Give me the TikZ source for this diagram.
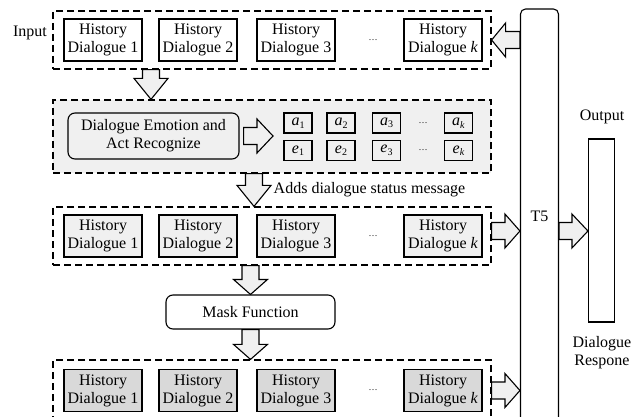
\documentclass[tikz,border=0pt]{standalone}
\usepackage{fontspec}
\setmainfont{Liberation Serif}
\usetikzlibrary{calc,positioning}
\definecolor{panelgray}{HTML}{F0F0F0}
\definecolor{maskgray}{HTML}{D9D9D9}

% Blockpfeil von #1 nach #2, Kopflaenge #3
\newcommand{\blockarrow}[3]{%
  \coordinate (ba) at (#1);
  \coordinate (bb) at (#2);
  \coordinate (hb) at ($(bb)!#3!(ba)$);
  \draw[blockarr] ($(ba)!8.5pt!90:(bb)$) -- ($(hb)!8.5pt!90:(bb)$) -- ($(hb)!17pt!90:(bb)$)
    -- (bb) -- ($(hb)!17pt!-90:(bb)$) -- ($(hb)!8.5pt!-90:(bb)$) -- ($(ba)!8.5pt!-90:(bb)$) -- cycle;}
\newcommand{\symb}[2]{\textit{#1}\raisebox{-2.5pt}{\fontsize{10}{10}\selectfont #2}}

\tikzset{
  group/.style={draw, line width=1.2pt, dash pattern=on 7pt off 4pt, minimum width=438pt, minimum height=58pt, inner sep=0pt},
  hist/.style={draw, line width=1.1pt, minimum width=78pt, minimum height=42pt, inner sep=1pt, align=center},
  symbox/.style={draw, line width=1.1pt, minimum width=28pt, minimum height=20pt, inner sep=0pt},
  roundbox/.style={draw, line width=1.1pt, rounded corners=7pt, align=center, inner sep=0pt},
  plainbox/.style={draw, line width=1.1pt, inner sep=0pt},
  blockarr/.style={draw, line width=1.1pt, fill=panelgray, line join=miter},
  dots/.style={font=\fontsize{9}{10}\selectfont, inner sep=0pt}
}

\begin{document}
\begin{tikzpicture}[x=1pt, y=1pt, font=\fontsize{16}{18}\selectfont]
  \useasboundingbox (0,0) rectangle (638,416);
  \clip (0,0) rectangle (638,416);
  % Gruppen
  \node[group] (row1) at (272,376) {};
  \node[group, fill=panelgray, minimum height=73pt] (row2) at (272,279.5) {};
  \node[group] (row3) at (272,180) {};
  \node[group] (row4) at (272,27) {};
  \node (inlbl) at (30,383) {Input};
  % Eingabe
  \foreach \i/\x in {1/103, 2/198, 3/296}
    \node[hist] (r1h\i) at (\x,376) {History\\Dialogue \i};
  \node[dots] (r1dots) at (373,376) {\dots};
  \node[hist] (r1hk) at (443,376) {History\\Dialogue \textit{k}};
  % Emotion und Akt
  \node[roundbox, minimum width=171pt, minimum height=46pt] (emo) at (153.5,280) {Dialogue Emotion and\\Act Recognize};
  \foreach \i/\x in {1/298, 2/341, 3/386.5} {
    \node[symbox] (a\i) at (\x,293) {\symb{a}{\i}};
    \node[symbox] (e\i) at (\x,265.5) {\symb{e}{\i}};
  }
  \node[dots] (adots) at (423,293) {\dots};
  \node[dots] (edots) at (423,265.5) {\dots};
  \node[symbox] (ak) at (458.5,293) {\symb{a}{\textit{k}}};
  \node[symbox] (ek) at (458.5,265.5) {\symb{e}{\textit{k}}};
  \coordinate (emoTip) at (273,280);
  \node (addlbl) at (369.5,226) {Adds dialogue status message};
  % mit Statusinformation
  \foreach \i/\x in {1/103, 2/198, 3/296}
    \node[hist, fill=panelgray] (r3h\i) at (\x,180) {History\\Dialogue \i};
  \node[dots] (r3dots) at (373,180) {\dots};
  \node[hist, fill=panelgray] (r3hk) at (443,180) {History\\Dialogue \textit{k}};
  \node[roundbox, fill=white, minimum width=169pt, minimum height=34pt] (mask) at (250.5,104) {Mask Function};
  % maskiert
  \foreach \i/\x in {1/103, 2/198, 3/296}
    \node[hist, fill=maskgray] (r4h\i) at (\x,25.5) {History\\Dialogue \i};
  \node[dots] (r4dots) at (373,25.5) {\dots};
  \node[hist, fill=maskgray] (r4hk) at (443,25.5) {History\\Dialogue \textit{k}};
  % T5 und Ausgabe
  \node[plainbox, rounded corners=5pt, minimum width=38pt, minimum height=414pt] (t5) at (539.5,200) {T5};
  \node[plainbox, minimum width=26pt, minimum height=183pt] (out) at (601.5,185.5) {};
  \node (outlbl) at (602,299) {Output};
  \node[align=center] (resp) at (602,63) {Dialogue\\Respone};
  % Pfeile
  \coordinate (colA) at (151,0);
  \coordinate (colB) at (254,0);
  \coordinate (lvl) at (0,185);
  \blockarrow{row1.south -| colA}{row2.north -| colA}{21pt}
  \blockarrow{[xshift=4pt]emo.east}{emoTip}{16pt}
  \blockarrow{row2.south -| colB}{row3.north -| colB}{21pt}
  \blockarrow{row3.south -| mask}{mask.north}{15pt}
  \blockarrow{mask.south}{row4.north -| mask}{15pt}
  \blockarrow{t5.west |- row1}{row1.east}{14pt}
  \blockarrow{row3.east |- lvl}{t5.west |- lvl}{15pt}
  \blockarrow{t5.east |- lvl}{out.west |- lvl}{16pt}
  \blockarrow{row4.east |- r4hk}{t5.west |- r4hk}{15pt}
\end{tikzpicture}
\end{document}
